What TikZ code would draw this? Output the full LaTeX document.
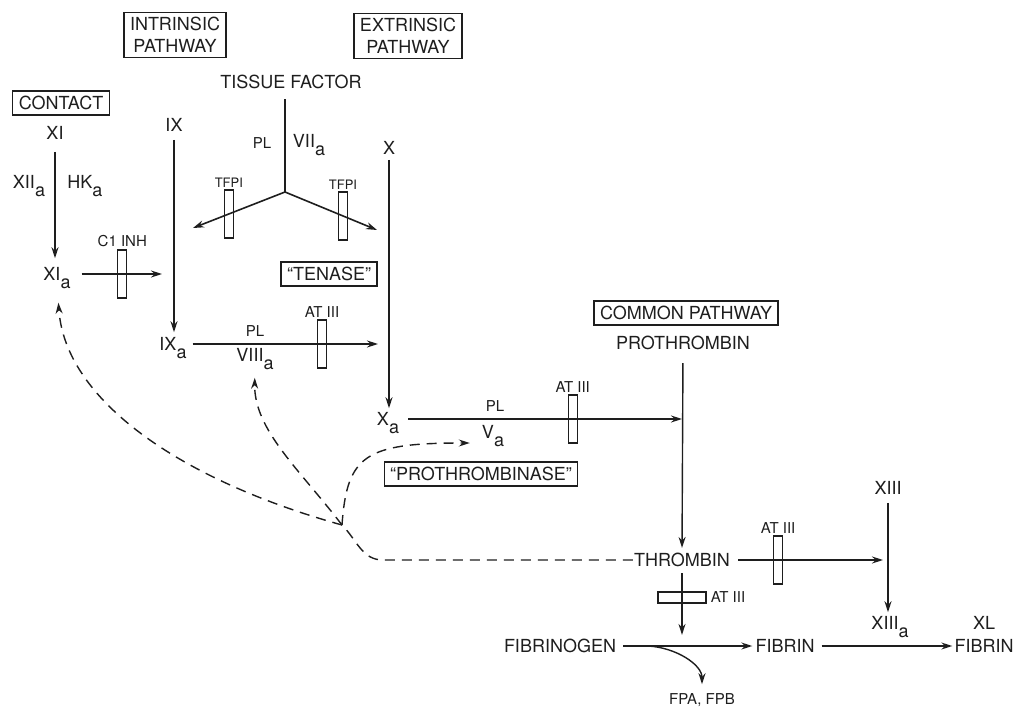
\documentclass[tikz,border=0pt]{standalone}
\usepackage{fontspec}
\setmainfont{TeX Gyre Heros}
\usetikzlibrary{arrows.meta, positioning, calc}
\usepackage{xcolor}
\definecolor{Ink}{HTML}{1E1E1E}
\newcommand{\act}{\raisebox{-0.8ex}[0pt][0pt]{a}}
\tikzset{
  lbl/.style={font=\fontsize{18}{22}\selectfont, inner sep=1pt, text=Ink},
  sml/.style={font=\fontsize{15}{17}\selectfont, inner sep=1pt, text=Ink},
  tny/.style={font=\fontsize{13}{15}\selectfont, inner sep=1pt, text=Ink},
  hbox/.style={lbl, draw=Ink, line width=1.3pt, align=center,
    inner xsep=6pt, inner ysep=5pt},
  vbar/.style={draw=Ink, line width=1.2pt, minimum width=9pt,
    minimum height=48pt, inner sep=0pt},
  hbar/.style={draw=Ink, line width=1.2pt, minimum width=48pt,
    minimum height=11pt, inner sep=0pt},
  tip/.style={-{Stealth[length=11pt, width=7pt]}},
  flow/.style={tip, line width=1.4pt, draw=Ink},
  plain/.style={line width=1.6pt, draw=Ink},
  fbk/.style={line width=1.4pt, draw=Ink, dash pattern=on 10pt off 7pt},
}

\begin{document}
\begin{tikzpicture}[x=1pt, y=-1pt, node distance=2pt]
    \useasboundingbox (0,0) rectangle (1017,708);
    \node[hbox] (intr) at (175,35) {INTRINSIC\\PATHWAY};
    \node[hbox] (extr) at (408,36) {EXTRINSIC\\PATHWAY};
    \node[lbl] (tf) at (291,82) {TISSUE FACTOR};
    \node[hbox] (cont) at (61,103) {CONTACT};
    \node[lbl] (fxi) at (55,133) {XI};
    \node[lbl] (fxia) at (57,274) {XI\act};
    \node[lbl] (f12a) at (29,182) {XII\act};
    \node[lbl] (hka) at (85,182) {HK\act};
    \node[lbl] (fix) at (174,125) {IX};
    \node[lbl] (fixa) at (173,344) {IX\act};
    \node[sml] (pl1) at (262,143) {PL};
    \node[lbl] (f7a) at (309,141) {VII\act};
    \node[lbl] (fx) at (389,148) {X};
    \node[lbl] (fxa) at (388,419) {X\act};
    \node[hbox] (ten) at (329,274) {``TENASE''};
    \node[sml] (pl2) at (255,331) {PL};
    \node[lbl] (f8a) at (255,355) {VIII\act};
    \node[sml] (pl3) at (495,406) {PL};
    \node[lbl] (fva) at (493,432) {V\act};
    \node[hbox] (ptase) at (481,474) {``PROTHROMBINASE''};
    \node[hbox] (comm) at (686,313) {COMMON PATHWAY};
    \node[lbl] (pt) at (683,343) {PROTHROMBIN};
    \node[lbl] (th) at (682,560) {THROMBIN};
    \node[lbl] (f13) at (888,488) {XIII};
    \node[lbl] (f13a) at (890,623) {XIII\act};
    \node[lbl] (fg) at (560,646) {FIBRINOGEN};
    \node[lbl] (fb) at (785,646) {FIBRIN};
    \node[lbl] (xlf) at (984,646) {FIBRIN};
    \node[lbl, above=8pt of xlf] (xl) {XL};
    \node[sml] (fp) at (702,700) {FPA, FPB};

    \coordinate (c1e) at (162,274);
    \coordinate (yj) at (285,192);
    \coordinate (tfl) at (193,228);
    \coordinate (tfr) at (377,230);
    \coordinate (spl) at (648,646);
    \coordinate (dk) at (383,560);
    \coordinate (jn) at (342,525);

    \draw[flow, shorten <=11pt, shorten >=8pt] (fxi.south) -- (fxi.south |- fxia.north);
    \draw[flow, shorten <=10pt] (fxia.east) -- node[vbar, pos=0.56] (b1) {} (c1e);
    \node[sml, above=1pt of b1] (c1inh) {C1 INH};
    \draw[flow, shorten <=7pt, shorten >=4pt] (fix.south) -- (fix.south |- fixa.north);

    \draw[plain, shorten <=9pt] (tf.south -| yj) -- (yj);
    \draw[flow, line width=1.6pt] (yj) -- node[vbar, pos=0.61] (b2) {} (tfl);
    \draw[flow, line width=1.6pt] (yj) -- node[vbar, pos=0.63] (b3) {} (tfr);
    \node[tny, above=1pt of b2] (tfpi1) {TFPI};
    \node[tny, above=1pt of b3] (tfpi2) {TFPI};

    \draw[flow, shorten <=4pt, shorten >=3pt] (fx.south) -- (fx.south |- fxa.north);
    \draw[flow, shorten <=5pt, shorten >=11pt] (fixa.east) -- node[vbar, pos=0.667] (b4) {} (fixa.east -| fx.south);
    \node[sml, above=1pt of b4] (at1) {AT III};
    \draw[flow, shorten <=8pt, shorten >=1pt] (fxa.east) -- node[vbar, pos=0.61] (b5) {} (fxa.east -| pt.south);
    \node[sml, above=1pt of b5] (at2) {AT III};

    \draw[flow, shorten <=12pt, shorten >=4pt] (pt.south) -- (th.north);
    \draw[flow, shorten <=7pt, shorten >=5pt] (th.east) -- node[vbar, pos=0.30] (b6) {} (th.east -| f13.south);
    \node[sml, above=1pt of b6] (at3) {AT III};
    \draw[flow, shorten <=7pt, shorten >=3pt] (f13.south) -- (f13.south |- f13a.north);
    \draw[flow, shorten <=5pt, shorten >=3pt] (th.south) -- node[hbar, pos=0.42] (b7) {} (th.south |- fg.north);
    \node[sml, right=3pt of b7] (at4) {AT III};

    \draw[flow, shorten <=6pt, shorten >=2pt] (fg.east) -- (fb.west);
    \draw[flow, shorten <=6pt, shorten >=1pt] (fb.east) -- (xlf.west);
    \draw[flow, shorten >=8pt] (spl) to[out=-3, in=90] (fp.north);

    \draw[fbk] (th.west) -- (dk) to[out=180, in=-45] (jn);
    \draw[fbk, tip, shorten >=21pt] (jn) .. controls (180,480) and (65,400) .. (fxia.south);
    \draw[fbk, tip, shorten >=15pt] (jn) .. controls (300,470) and (254,430) .. (f8a.south);
    \draw[fbk, tip, shorten >=11pt] (jn) .. controls (347,455) and (365,443) .. ([yshift=-11pt]fva.west);
  \end{tikzpicture}
\end{document}
